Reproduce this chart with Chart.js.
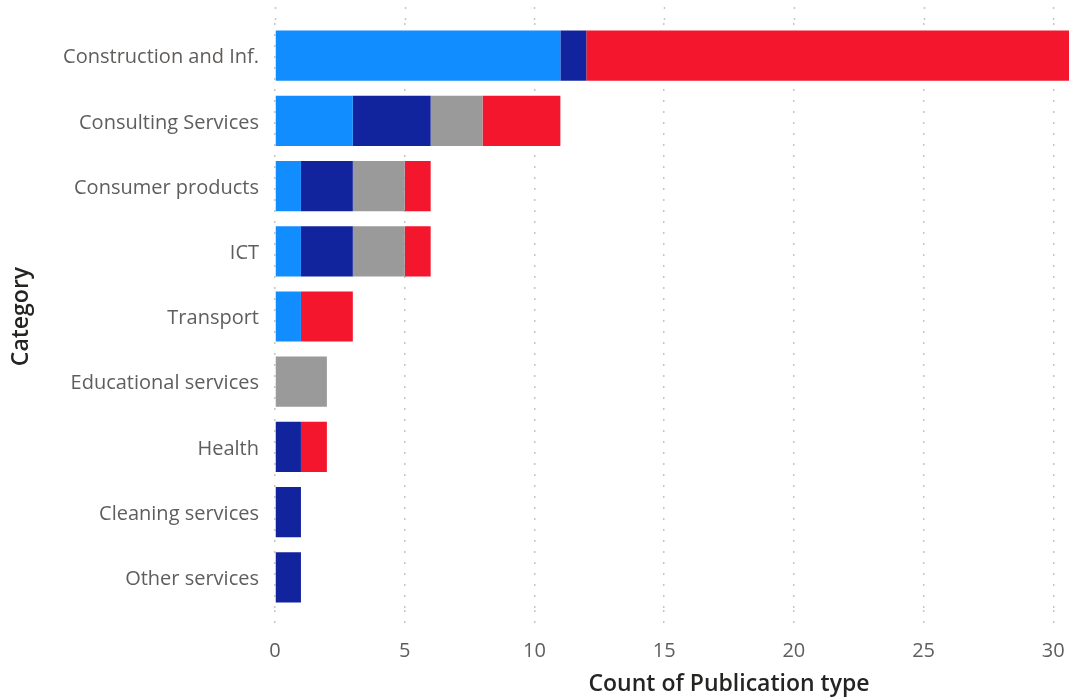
<!DOCTYPE html>
<html>
<head>
<meta charset="utf-8">
<title>Count of Publication type by Category</title>
<script src="https://cdn.jsdelivr.net/npm/chart.js@4/dist/chart.umd.min.js"></script>
<style>
  html, body { margin: 0; padding: 0; background: #ffffff; overflow: hidden; }
  #view { width: 1069px; height: 698px; overflow: hidden; position: relative; }
  #wrap { width: 1183px; height: 698px; position: absolute; left: 0; top: 0; }
</style>
</head>
<body>
<div id="view"><div id="wrap"><canvas id="chart"></canvas></div></div>
<script>
// categories, top to bottom
const categories = [
  'Construction and Inf.',
  'Consulting Services',
  'Consumer products',
  'ICT',
  'Transport',
  'Educational services',
  'Health',
  'Cleaning services',
  'Other services'
];

// publication type counts per category (stacked left to right)
const typeA = [11, 3, 1, 1, 1, 0, 0, 0, 0];
const typeB = [1, 3, 2, 2, 0, 0, 1, 1, 1];
const typeC = [0, 2, 2, 2, 0, 2, 0, 0, 0];
const typeD = [19, 3, 1, 1, 2, 0, 1, 0, 0];

const xTicks = [0, 5, 10, 15, 20, 25, 30, 35];

const labelColor = '#605E5C';
const titleColor = '#252423';
const gridColor = '#C8C6C4';
const gridDash = [2, 9];

// the dotted gridlines run a little above the first bar
const gridTop = {
  id: 'gridTop',
  beforeDatasetsDraw(chart) {
    const { ctx, chartArea, scales } = chart;
    ctx.save();
    ctx.strokeStyle = gridColor;
    ctx.lineWidth = 1.5;
    ctx.setLineDash(gridDash);
    scales.x.ticks.forEach(t => {
      const px = Math.round(scales.x.getPixelForValue(t.value)) + 0.5;
      ctx.beginPath();
      ctx.moveTo(px, 7);
      ctx.lineTo(px, chartArea.top);
      ctx.stroke();
    });
    ctx.restore();
  }
};

const ctx = document.getElementById('chart').getContext('2d');
new Chart(ctx, {
  type: 'bar',
  data: {
    labels: categories,
    datasets: [
      { label: 'Type A', data: typeA, backgroundColor: '#118DFF' },
      { label: 'Type B', data: typeB, backgroundColor: '#12239E' },
      { label: 'Type C', data: typeC, backgroundColor: '#9A9A9A' },
      { label: 'Type D', data: typeD, backgroundColor: '#F4162C' }
    ]
  },
  options: {
    indexAxis: 'y',
    responsive: true,
    maintainAspectRatio: false,
    animation: false,
    layout: { padding: { top: 23, right: 0, left: 0, bottom: 0 } },
    datasets: {
      bar: { categoryPercentage: 1, barPercentage: 0.77, borderWidth: 0 }
    },
    plugins: {
      legend: { display: false },
      tooltip: { enabled: false }
    },
    scales: {
      x: {
        stacked: true,
        min: 0,
        max: 35,
        afterBuildTicks: scale => {
          scale.ticks = xTicks.map(v => ({ value: v }));
        },
        afterFit: scale => {
          scale.height = 88;
          scale.paddingRight = 0;
        },
        border: { display: false, dash: gridDash },
        grid: {
          color: gridColor,
          lineWidth: 1.5,
          tickLength: 15,
          drawTicks: true,
          tickBorderDash: gridDash,
          tickColor: gridColor
        },
        ticks: {
          color: labelColor,
          padding: 14,
          font: { family: '"Open Sans", sans-serif', size: 20 }
        },
        title: {
          display: true,
          text: 'Count of Publication type',
          color: titleColor,
          padding: { top: 0, bottom: 0 },
          font: { family: '"Open Sans", sans-serif', size: 23, weight: 600 }
        }
      },
      y: {
        stacked: true,
        afterFit: scale => {
          scale.width = 275;
          scale.paddingTop = 0;
          scale.paddingBottom = 0;
        },
        border: { display: false },
        grid: { display: false, drawTicks: false },
        ticks: {
          color: labelColor,
          padding: 16,
          labelOffset: 2,
          font: { family: '"Open Sans", sans-serif', size: 20 }
        },
        title: {
          display: true,
          text: 'Category',
          color: titleColor,
          padding: { top: 8, bottom: 0 },
          font: { family: '"Open Sans", sans-serif', size: 23, weight: 600 }
        }
      }
    }
  },
  plugins: [gridTop]
});
</script>
</body>
</html>
